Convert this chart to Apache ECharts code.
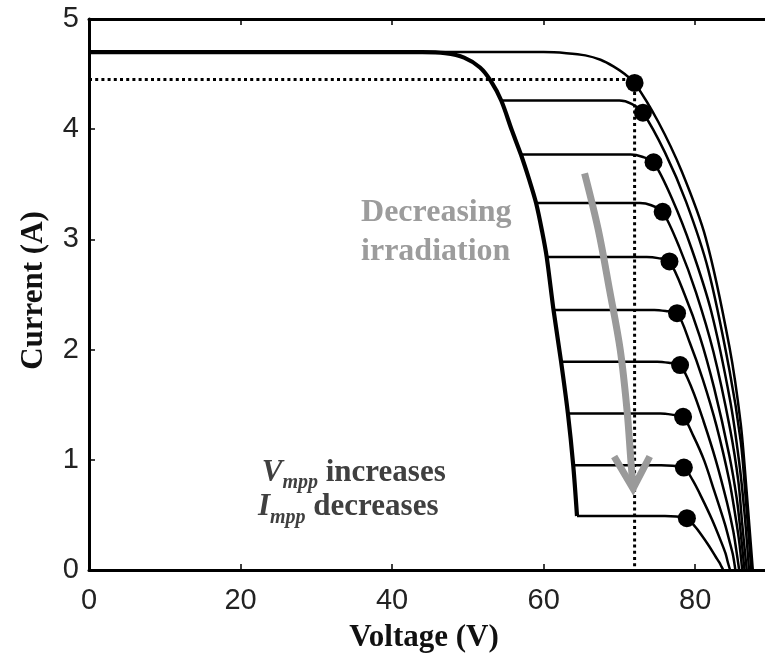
<!DOCTYPE html>
<html><head><meta charset="utf-8">
<script src="https://cdn.jsdelivr.net/npm/echarts@6/dist/echarts.min.js"></script>
<style>html,body{margin:0;padding:0;background:#fff}#c{width:765px;height:661px}</style>
</head><body><div id="c"></div>
<script>
// ---- data (Voltage V, Current A) ----
const xTicks = [0, 20, 40, 60, 80];
const yTicks = [0, 1, 2, 3, 4, 5];

// common path of the shaded curves (flat at Isc, then the steep knee)
const kneeV = [0, 44, 47, 49.5, 51.6, 53.0, 54.4, 55.8, 57.0, 58.1, 59.0, 59.8, 60.4, 61.3, 62.3, 63.2, 63.9, 64.4];
const kneeI = [4.7, 4.7, 4.69, 4.65, 4.56, 4.44, 4.26, 3.99, 3.77, 3.54, 3.33, 3.07, 2.84, 2.36, 1.89, 1.42, 0.95, 0.49];

// unshaded curve
const fullV = [0, 60, 63, 65.5, 67.5, 69.2, 70.7, 72.0, 75.1, 78.2, 81.4, 84.5, 86.0, 86.8, 87.6];
const fullI = [4.7, 4.7, 4.69, 4.67, 4.63, 4.57, 4.5, 4.42, 4.07, 3.62, 3.01, 2.03, 1.33, 0.7, 0];

// shaded curves: branch from the knee to open circuit
const branchV = [
  [54.4, 70.0, 71.6, 73.1, 76.0, 78.8, 81.7, 84.5, 86.0, 86.7, 87.4],
  [57.0, 71.5, 73.0, 74.5, 77.0, 79.5, 82.1, 84.6, 85.8, 86.5, 87.1],
  [59.0, 72.7, 74.2, 75.7, 77.9, 80.1, 82.4, 84.6, 85.7, 86.2, 86.8],
  [60.4, 73.6, 75.1, 76.6, 78.6, 80.6, 82.5, 84.5, 85.5, 86.0, 86.5],
  [61.3, 74.6, 76.1, 77.6, 79.3, 81.0, 82.8, 84.5, 85.3, 85.8, 86.2],
  [62.3, 75.0, 76.5, 78.0, 79.6, 81.1, 82.7, 84.2, 85.0, 85.4, 85.8],
  [63.2, 75.4, 76.9, 78.4, 79.8, 81.2, 82.5, 83.9, 84.6, 85.0, 85.3],
  [63.9, 75.5, 77.0, 78.5, 79.7, 80.9, 82.2, 83.4, 84.0, 84.3, 84.6],
  [64.4, 76.0, 77.5, 78.9, 79.9, 80.8, 81.8, 82.7, 83.2, 83.45, 83.7]
];
const branchI = [
  [4.26, 4.26, 4.23, 4.15, 3.79, 3.34, 2.73, 1.82, 1.17, 0.62, 0],
  [3.77, 3.77, 3.75, 3.70, 3.36, 2.92, 2.35, 1.54, 0.98, 0.52, 0],
  [3.33, 3.33, 3.31, 3.25, 2.93, 2.52, 1.98, 1.28, 0.80, 0.42, 0],
  [2.84, 2.84, 2.83, 2.80, 2.50, 2.12, 1.65, 1.04, 0.64, 0.34, 0],
  [2.36, 2.36, 2.35, 2.33, 2.06, 1.73, 1.31, 0.81, 0.49, 0.26, 0],
  [1.89, 1.89, 1.88, 1.86, 1.64, 1.35, 1.00, 0.61, 0.36, 0.19, 0],
  [1.42, 1.42, 1.41, 1.39, 1.21, 0.99, 0.72, 0.42, 0.24, 0.13, 0],
  [0.95, 0.95, 0.945, 0.93, 0.81, 0.65, 0.46, 0.26, 0.15, 0.07, 0],
  [0.49, 0.49, 0.485, 0.47, 0.40, 0.32, 0.22, 0.12, 0.066, 0.033, 0]
];

// maximum power points
const mppV = [72.0, 73.1, 74.5, 75.7, 76.6, 77.6, 78.0, 78.4, 78.5, 78.9];
const mppI = [4.42, 4.15, 3.70, 3.25, 2.80, 2.33, 1.86, 1.39, 0.93, 0.47];

// dotted guide lines to the full-irradiance MPP
const guideV = [0, 72.0, 72.0];
const guideI = [4.45, 4.45, 0];

// grey arrow
const arrowV = [65.4, 67.2, 68.7, 70.1, 71.0, 71.5, 71.8];
const arrowI = [3.60, 3.09, 2.54, 2.00, 1.45, 1.00, 0.74];
const headV = [69.3, 71.8, 74.0];
const headI = [1.03, 0.74, 1.03];

// annotation texts (anchor in data coords: left edge, vertical middle)
const noteLines = ['Decreasing', 'irradiation'];
const noteV = [35.9, 35.9];
const noteI = [3.24, 2.89];
const mppNotes = ['{v|V}{s|mpp}{n| increases}', '{v|I}{s|mpp}{n| decreases}'];
const mppNoteV = [22.8, 22.3];
const mppNoteI = [0.86, 0.55];

const zip = (a, b) => a.map((v, k) => [v, b[k]]);

const serifB = 'Liberation Serif';
const sans = 'Liberation Sans';

const lineBase = (data, width, extra) => Object.assign({
  type: 'line', data, showSymbol: false, symbol: 'none', smooth: 0.3,
  lineStyle: { color: '#000', width }, silent: true, animation: false, z: 3
}, extra || {});

const series = [];
series.push(lineBase(zip(fullV, fullI), 2.5));
branchV.forEach((bv, k) => series.push(lineBase(zip(bv, branchI[k]), 2.5)));
series.push(lineBase(zip(kneeV, kneeI), 4.2));
series.push({
  type: 'line', data: zip(guideV, guideI), showSymbol: false, symbol: 'none',
  lineStyle: { color: '#000', width: 3, type: [3, 3.2], cap: 'butt' }, silent: true, animation: false, z: 2
});
series.push(lineBase(zip(arrowV, arrowI), 7, { smooth: 0.35, lineStyle: { color: '#9a9a9a', width: 7, cap: 'butt' }, z: 5 }));
series.push({
  type: 'line', data: zip(headV, headI), showSymbol: false, symbol: 'none', smooth: false,
  lineStyle: { color: '#9a9a9a', width: 7, join: 'miter', cap: 'butt' }, silent: true, animation: false, z: 5
});
series.push({
  type: 'scatter', data: zip(mppV, mppI), symbol: 'circle', symbolSize: 18,
  itemStyle: { color: '#000', opacity: 1 }, silent: true, animation: false, z: 6
});

const tickStyle = { show: true, inside: true, length: 6, lineStyle: { color: '#000', width: 1.5 } };
const axisLine = { show: true, onZero: false, lineStyle: { color: '#000', width: 3 } };

const option = {
  animation: false,
  backgroundColor: '#fff',
  grid: { left: 89, top: 19, bottom: 91, right: -6, containLabel: false, outerBoundsMode: 'none' },
  xAxis: [{
    type: 'value', min: 0, max: 90, interval: 20, position: 'bottom',
    axisLine, axisTick: tickStyle, splitLine: { show: false },
    axisLabel: { show: true, margin: 16, color: '#222', fontFamily: sans, fontSize: 29, showMaxLabel: false,
      formatter: v => (xTicks.indexOf(v) >= 0 ? String(v) : '') },
    name: 'Voltage (V)', nameLocation: 'middle', nameGap: 52,
    nameTextStyle: { fontFamily: serifB, fontWeight: 'bold', fontSize: 31, color: '#111', padding: [0, 12, 0, 0] }
  }, {
    type: 'value', min: 0, max: 90, interval: 20, position: 'top',
    axisLine, axisTick: tickStyle, splitLine: { show: false }, axisLabel: { show: false }
  }],
  yAxis: [{
    type: 'value', min: 0, max: 5, interval: 1, position: 'left',
    axisLine, axisTick: tickStyle, splitLine: { show: false },
    axisLabel: { show: true, margin: 10, color: '#222', fontFamily: sans, fontSize: 29,
      formatter: v => (yTicks.indexOf(v) >= 0 ? String(v) : '') },
    name: 'Current (A)', nameLocation: 'middle', nameGap: 40,
    nameTextStyle: { fontFamily: serifB, fontWeight: 'bold', fontSize: 31, color: '#111', padding: [0, 0, 0, 8] }
  }, {
    type: 'value', min: 0, max: 5, interval: 1, position: 'right',
    axisLine, axisTick: tickStyle, splitLine: { show: false }, axisLabel: { show: false }
  }],
  series
};

const chart = echarts.init(document.getElementById('c'), null, { renderer: 'canvas' });
chart.setOption(option);

const px = (v, i) => chart.convertToPixel({ xAxisIndex: 0, yAxisIndex: 0 }, [v, i]);
const graphic = [];
noteLines.forEach((t, k) => {
  const p = px(noteV[k], noteI[k]);
  graphic.push({ type: 'text', x: p[0], y: p[1], z: 10, silent: true,
    style: { text: t, fill: '#9c9c9c', fontFamily: serifB, fontWeight: 'bold', fontSize: 32, align: 'left', verticalAlign: 'middle' } });
});
mppNotes.forEach((t, k) => {
  const p = px(mppNoteV[k], mppNoteI[k]);
  graphic.push({ type: 'text', x: p[0], y: p[1], z: 10, silent: true,
    style: { text: t, fill: '#404040', align: 'left', verticalAlign: 'middle',
      rich: {
        v: { fontFamily: serifB, fontWeight: 'bold', fontStyle: 'italic', fontSize: 31, lineHeight: 36, verticalAlign: 'top', fill: '#404040' },
        s: { fontFamily: serifB, fontWeight: 'bold', fontStyle: 'italic', fontSize: 20, lineHeight: 36, verticalAlign: 'bottom', fill: '#404040' },
        n: { fontFamily: serifB, fontWeight: 'bold', fontSize: 31, lineHeight: 36, verticalAlign: 'top', fill: '#404040' }
      } } });
});
chart.setOption({ graphic });
</script>
</body></html>
